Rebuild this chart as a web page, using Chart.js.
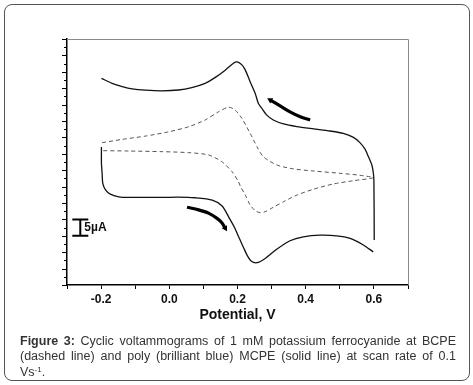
<!DOCTYPE html>
<html>
<head>
<meta charset="utf-8">
<script src="https://cdn.jsdelivr.net/npm/chart.js@4.4.1/dist/chart.umd.min.js"></script>
<style>
  body { margin: 0; background: #fff; }
  #wrap { position: relative; width: 473px; height: 385px; overflow: hidden; font-family: Arial, "Liberation Sans", sans-serif; }
  #frame { position: absolute; left: 4px; top: 4px; width: 466px; height: 377px; border: 1px solid #555; border-radius: 8px; box-sizing: border-box; }
  #cv { position: absolute; left: 0; top: 0; }
  #caption { position: absolute; left: 20px; top: 334px; width: 436px; font-size: 12.5px; line-height: 15.3px; color: #333; }
  #caption .j { text-align: justify; text-align-last: justify; }
  #caption sup { font-size: 8px; line-height: 0; vertical-align: 4px; }
</style>
</head>
<body>
<div id="wrap">
  <div id="frame"></div>
  <canvas id="cv" width="473" height="385"></canvas>
  <div id="caption">
    <div class="j"><b>Figure 3:</b> Cyclic voltammograms of 1 mM potassium ferrocyanide at BCPE</div>
    <div class="j">(dashed line) and poly (brilliant blue) MCPE (solid line) at scan rate of 0.1</div>
    <div>Vs<sup>-1</sup>.</div>
  </div>
</div>
<script>
// potential in V, current in µA
const solidUpperV = [-0.199, -0.168, -0.138, -0.109, -0.070, -0.021, 0.027, 0.066, 0.105, 0.135, 0.164, 0.188, 0.199, 0.213, 0.223, 0.237, 0.252, 0.261, 0.271, 0.286, 0.305, 0.335, 0.374, 0.423, 0.471, 0.510, 0.540, 0.559, 0.574, 0.584, 0.594, 0.598, 0.600, 0.601];
const solidUpperI = [23.0, 21.5, 20.5, 19.8, 19.4, 19.2, 19.45, 20.2, 21.5, 23.3, 25.5, 27.6, 28.0, 27.1, 25.5, 22.0, 18.4, 15.4, 13.9, 11.8, 10.3, 9.1, 8.3, 7.6, 6.95, 6.25, 5.0, 3.4, 1.4, -0.9, -3.4, -5.55, -8.0, -26.3];

const solidLowerV = [0.598, 0.569, 0.530, 0.491, 0.442, 0.393, 0.354, 0.315, 0.281, 0.257, 0.240, 0.228, 0.217, 0.205, 0.192, 0.176, 0.155, 0.126, 0.076, 0.027, -0.021, -0.070, -0.119, -0.148, -0.173, -0.187, -0.195, -0.197, -0.199, -0.199];
const solidLowerI = [-29.9, -27.8, -25.8, -25.0, -24.8, -25.3, -26.5, -29.1, -31.9, -33.2, -32.7, -30.9, -28.4, -25.7, -22.6, -19.6, -15.9, -14.1, -13.4, -13.2, -13.3, -13.3, -13.3, -13.1, -12.3, -11.0, -9.0, -5.95, -2.9, 2.1];

const dashedV = [-0.197, -0.138, -0.070, -0.002, 0.057, 0.105, 0.144, 0.174, 0.193, 0.213, 0.237, 0.257, 0.276, 0.315, 0.364, 0.423, 0.501, 0.559, 0.598,
                 0.540, 0.481, 0.423, 0.374, 0.335, 0.305, 0.281, 0.266, 0.252, 0.237, 0.223, 0.208, 0.203, 0.184, 0.154, 0.115, 0.057, -0.021, -0.119, -0.197];
const dashedI = [3.4, 4.4, 5.4, 6.7, 8.25, 10.3, 12.8, 14.2, 13.35, 10.8, 6.25, 2.2, -0.9, -3.4, -4.6, -5.25, -5.95, -6.55, -7.3,
                 -8.2, -9.2, -10.8, -12.6, -14.6, -16.3, -17.65, -17.95, -17.35, -15.6, -12.6, -9.8, -8.5, -5.45, -2.4, -0.35, 0.35, 0.65, 0.85, 0.95];

const arrowUpV = [0.413, 0.384, 0.354, 0.325, 0.296];
const arrowUpI = [10.3, 11.3, 12.8, 14.6, 16.4];
const arrowDownV = [0.052, 0.086, 0.115, 0.140, 0.154, 0.164];
const arrowDownI = [-16.3, -17.1, -18.1, -19.7, -21.0, -22.7];

const xTickLabels = ["-0.2", "0.0", "0.2", "0.4", "0.6"];
const scaleBarV = -0.261;
const scaleBarI = [-25, -20];
const scaleBarText = "5µA";

function pts(vs, is) {
  return vs.map((v, i) => ({ x: v, y: is[i] }));
}

const solidStyle = { borderColor: '#111', borderWidth: 1.3, pointRadius: 0, tension: 0.25, showLine: true, fill: false };

const extras = {
  id: 'extras',
  afterDraw(chart) {
    const { ctx, chartArea: a, scales: { x, y } } = chart;
    ctx.save();
    // top and right frame
    ctx.strokeStyle = '#8a8a8a';
    ctx.lineWidth = 1;
    ctx.beginPath();
    ctx.moveTo(a.left, a.top + 0.5);
    ctx.lineTo(a.right + 0.5, a.top + 0.5);
    ctx.lineTo(a.right + 0.5, a.bottom);
    ctx.stroke();
    // y ticks, every 2.5 µA
    ctx.strokeStyle = '#000';
    ctx.lineWidth = 1;
    for (let k = 0; k <= 30; k++) {
      const v = y.min + k * 2.5;
      const py = Math.round(y.getPixelForValue(v)) + 0.5;
      const len = k % 2 === 0 ? 5 : 3;
      ctx.beginPath();
      ctx.moveTo(a.left - len, py);
      ctx.lineTo(a.left, py);
      ctx.stroke();
    }
    // 5 µA scale bar
    const bx = x.getPixelForValue(scaleBarV);
    const b0 = y.getPixelForValue(scaleBarI[0]);
    const b1 = y.getPixelForValue(scaleBarI[1]);
    ctx.lineWidth = 2;
    ctx.beginPath();
    ctx.moveTo(bx, b0); ctx.lineTo(bx, b1);
    ctx.moveTo(bx - 8, b0); ctx.lineTo(bx + 8, b0);
    ctx.moveTo(bx - 8, b1); ctx.lineTo(bx + 8, b1);
    ctx.stroke();
    ctx.fillStyle = '#111';
    ctx.font = 'bold 12px Arial, "Liberation Sans", sans-serif';
    ctx.textBaseline = 'middle';
    ctx.fillText(scaleBarText, bx + 4, (b0 + b1) / 2);
    ctx.restore();
  }
};

new Chart(document.getElementById('cv'), {
  type: 'scatter',
  data: {
    datasets: [
      { ...solidStyle, data: pts(solidUpperV, solidUpperI) },
      { ...solidStyle, data: pts(solidLowerV, solidLowerI) },
      { data: pts(dashedV, dashedI), borderColor: '#555', borderWidth: 1, borderDash: [4, 3], pointRadius: 0, tension: 0.25, showLine: true },
      { data: pts(arrowUpV, arrowUpI), borderColor: '#000', backgroundColor: '#000', borderWidth: 3.2, tension: 0.3, showLine: true,
        pointStyle: 'triangle', pointRadius: [0, 0, 0, 0, 3.5], pointRotation: [0, 0, 0, 0, 300], pointBorderWidth: 0 },
      { data: pts(arrowDownV, arrowDownI), borderColor: '#000', backgroundColor: '#000', borderWidth: 3.2, tension: 0.3, showLine: true,
        pointStyle: 'triangle', pointRadius: [0, 0, 0, 0, 0, 3.5], pointRotation: [0, 0, 0, 0, 0, 150], pointBorderWidth: 0 }
    ]
  },
  options: {
    responsive: false,
    animation: false,
    events: [],
    layout: { padding: { top: 39, right: 65, left: 0, bottom: 61 } },
    plugins: { legend: { display: false }, tooltip: { enabled: false } },
    scales: {
      x: {
        type: 'linear', min: -0.3, max: 0.7,
        afterFit: s => { s.height = 39; },
        border: { color: '#000', width: 1.5 },
        grid: { drawOnChartArea: false, tickLength: 4, color: '#000', tickColor: '#000' },
        ticks: {
          stepSize: 0.1, autoSkip: false, maxRotation: 0, padding: 3, color: '#111',
          font: { family: 'Arial, "Liberation Sans", sans-serif', size: 12, weight: 'bold' },
          callback: v => {
            const r = Math.round(v * 10);
            const idx = xTickLabels.indexOf((r / 10).toFixed(1));
            return r % 2 === 0 && idx >= 0 ? xTickLabels[idx] : '';
          }
        },
        title: {
          display: true, text: 'Potential, V', color: '#111', padding: 0,
          font: { family: 'Arial, "Liberation Sans", sans-serif', size: 14, weight: 'bold' }
        }
      },
      y: {
        type: 'linear', min: -40, max: 35,
        afterFit: s => { s.width = 67; },
        border: { color: '#000', width: 1.5 },
        grid: { display: false },
        ticks: { display: false }
      }
    }
  },
  plugins: [extras]
});
</script>
</body>
</html>
